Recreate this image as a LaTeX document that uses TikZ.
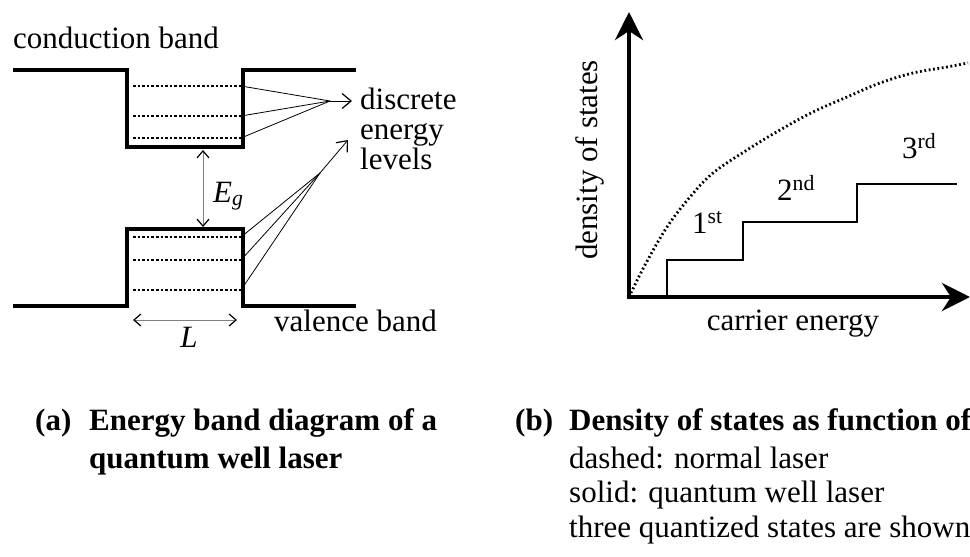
\documentclass[tikz,border=0pt]{standalone}
\usepackage{amsmath}
\usepackage{fontspec}
\setmainfont{Liberation Serif}
\usetikzlibrary{arrows.meta, positioning, calc}

\begin{document}
\begin{tikzpicture}[
        x=1pt, y=-1pt,
        bandtext/.style={font=\fontsize{31}{36}\selectfont, inner sep=0pt},
        captext/.style={bandtext, font=\fontsize{31}{36}\selectfont\bfseries},
        bandline/.style={line width=4.5pt},
        levelline/.style={line width=2.4pt, dash pattern=on 2.6pt off 2pt},
        fanline/.style={line width=0.8pt},
        fanarrow/.style={line width=0.8pt, -{Straight Barb[length=9pt, width=15pt, line width=1.2pt]}},
        gaparrow/.style={line width=1pt, draw=gray,
            {Straight Barb[length=7pt, width=12pt, line width=1.2pt, color=black]}-{Straight Barb[length=7pt, width=12pt, line width=1.2pt, color=black]}},
        axisline/.style={line width=4.5pt,
            {Stealth[length=28pt, width=28pt, inset=9pt]}-{Stealth[length=28pt, width=28pt, inset=9pt]}},
        stepline/.style={line width=1.6pt},
        dosline/.style={line width=2.8pt, dash pattern=on 1.8pt off 2.6pt}
    ]
        \useasboundingbox (0,0) rectangle (970,557);

        % (a) energy bands of the well
        \draw[bandline] (13,70) -- (127,70) -- (127,147) -- (243,147) -- (243,70) -- (356,70);
        \draw[bandline] (13,306) -- (127,306) -- (127,229) -- (243,229) -- (243,306) -- (356,306);

        \foreach \y/\n in {86/c1, 116/c2, 138/c3, 237/v1, 260/v2, 290/v3}
            \draw[levelline] (133,\y) -- (241,\y) coordinate (\n);

        \coordinate (cconv) at (330,101);
        \coordinate (ctip) at (352,101);
        \coordinate (vconv) at (320,173);
        \coordinate (vtip) at (348,140);
        \foreach \n in {c1, c2, c3}
            \draw[fanline] (\n) -- (cconv);
        \foreach \n in {v1, v2, v3}
            \draw[fanline] (\n) -- (vconv);
        \draw[fanarrow] (cconv) -- (ctip);
        \draw[fanarrow] (vconv) -- (vtip);

        \coordinate (gtop) at (203,150);
        \coordinate (gbot) at (203,227);
        \draw[gaparrow] (gtop) -- (gbot);
        \node[bandtext, anchor=base west] (eg) at (213,202) {\textit{E}$_{\textit{g}}$};

        \coordinate (lleft) at (133,320);
        \coordinate (lright) at (237,320);
        \draw[gaparrow] (lleft) -- (lright);
        \node[bandtext, anchor=base] (lwidth) at (189,347) {\textit{L}};

        \node[bandtext, anchor=base west] (cband) at (13,48) {conduction band};
        \node[bandtext, anchor=base west] (vband) at (274,331) {valence band};
        \node[bandtext, anchor=base west] (disc) at (360,109) {discrete};
        \node[bandtext, anchor=base west] (ener) at (360,139) {energy};
        \node[bandtext, anchor=base west] (levs) at (360,169) {levels};

        % (b) density of states
        \coordinate (origin) at (629,297);
        \coordinate (ytip) at (629,12);
        \coordinate (xtip) at (970,297);
        \draw[axisline] (ytip) -- (origin) -- (xtip);

        \draw[stepline] (667,297) -- (667,260) -- (743,260) -- (743,222) -- (857,222) -- (857,184) -- (957,184);

        \draw[dosline] plot[smooth, tension=0.6] coordinates {(629,297) (645,265) (667,227) (690,197) (713,173) (747,150) (780,130) (813,112) (847,97) (880,83) (913,73) (947,67) (968,63)};

        \node[bandtext, anchor=base west] (first) at (692,233) {1\textsuperscript{st}};
        \node[bandtext, anchor=base west] (second) at (777,200) {2\textsuperscript{nd}};
        \node[bandtext, anchor=base west] (third) at (902,158) {3\textsuperscript{rd}};

        \node[bandtext, rotate=90, anchor=base] (dos) at (597,160) {density of states};
        \node[bandtext, anchor=base] (carrier) at (793,330) {carrier energy};

        % captions
        \node[captext, anchor=base west] (capa) at (35,430) {(a)};
        \node[captext, anchor=base west] (capaone) at (89,430) {Energy band diagram of a};
        \node[captext, anchor=base west] (capatwo) at (89,468) {quantum well laser};
        \node[captext, anchor=base west] (capb) at (515,430) {(b)};
        \node[captext, anchor=base west] (capbone) at (569,430) {Density of states as function of};
        \node[bandtext, anchor=base west] (dashnote) at (569,468) {dashed: normal laser};
        \node[bandtext, anchor=base west] (solidnote) at (569,502) {solid: quantum well laser};
        \node[bandtext, anchor=base west] (statenote) at (569,537) {three quantized states are shown};
\end{tikzpicture}
\end{document}
